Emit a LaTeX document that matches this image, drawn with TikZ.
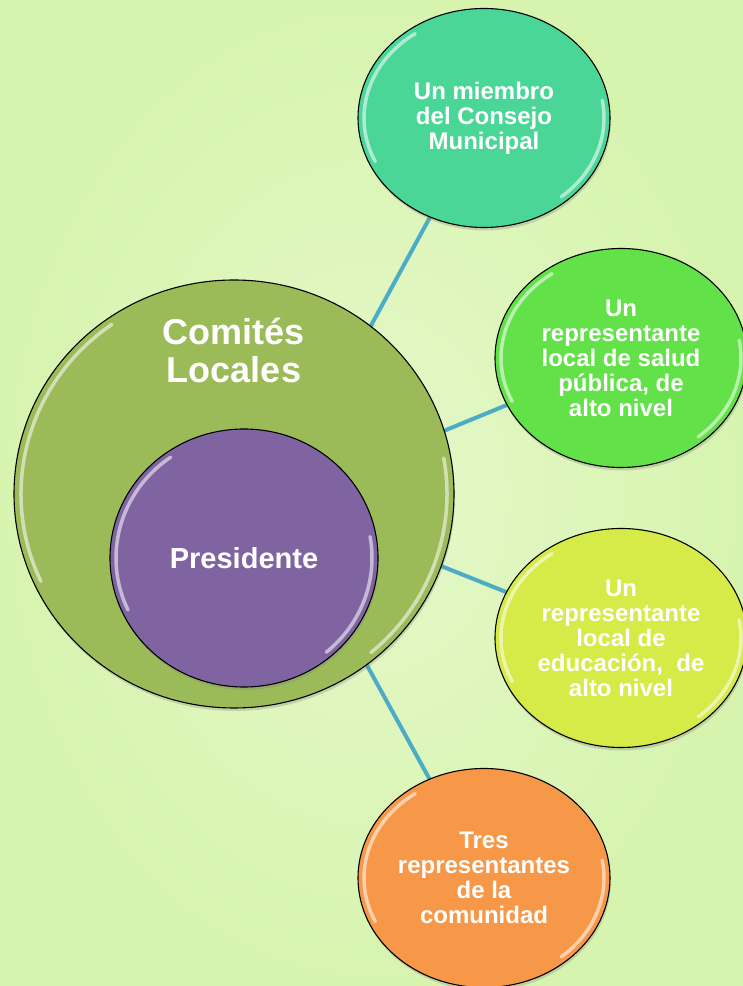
\documentclass[tikz,border=0pt]{standalone}
\usepackage{fontspec}
\setmainfont{Liberation Sans}
\usepackage{tikz}
\usetikzlibrary{positioning, shapes.geometric, backgrounds, shadows}

\definecolor{fondoin}{RGB}{229,248,202}
\definecolor{fondoout}{RGB}{215,244,175}
\definecolor{verdecomite}{RGB}{155,187,89}
\definecolor{morado}{RGB}{128,100,162}
\definecolor{turquesa}{RGB}{74,214,151}
\definecolor{verdevivo}{RGB}{98,225,72}
\definecolor{lima}{RGB}{214,234,72}
\definecolor{naranja}{RGB}{247,151,72}
\definecolor{azulrayo}{RGB}{75,172,198}

\tikzset{
  glare/.style={white, opacity=.55, line width=3.5pt, line cap=round},
  shine/.style 2 args={path picture={
      \draw[glare] (path picture bounding box.center) ++(205:#1 and #2)
        arc[start angle=205, end angle=125, x radius=#1, y radius=#2];
      \draw[glare] (path picture bounding box.center) ++(10:#1 and #2)
        arc[start angle=10, end angle=-50, x radius=#1, y radius=#2];}},
  bubble/.style={ellipse, draw=black, line width=1.1pt, inner sep=0pt,
      text=white, align=center,
      drop shadow={opacity=.3, shadow xshift=1pt, shadow yshift=-3pt}},
  miembro/.style={bubble, fill=#1, minimum width=252pt, minimum height=219pt,
      font=\bfseries\fontsize{24}{25}\selectfont, shine={120pt}{103pt}},
  rayo/.style={draw=azulrayo, line width=4pt}
}

\begin{document}
\begin{tikzpicture}[x=1pt, y=1pt]
        \useasboundingbox (0,0) rectangle (743,986);
        \begin{pgfonlayer}{background}
          \shade[inner color=fondoin, outer color=fondoout] (0,0) rectangle (743,986);
        \end{pgfonlayer}

        \coordinate (centro) at (276,486);

        \node (comite) [bubble, fill=verdecomite, minimum width=440pt, minimum height=428pt,
              shine={213pt}{207pt}] at (234,492) {};
        \node (titulo) [text=white, align=center, font=\bfseries\fontsize{36}{38}\selectfont]
              at ([yshift=-71pt]comite.north) {Comités\\Locales};
        \node (presidente) [bubble, fill=morado, minimum width=268pt, minimum height=258pt,
              font=\bfseries\fontsize{29}{30}\selectfont, shine={128pt}{123pt}]
              at (244,428) {Presidente};

        \node (concejo) [miembro=turquesa] at (484,868) {Un miembro\\del Consejo\\Municipal};
        \node (salud) [miembro=verdevivo] at (621,628)
              {Un\\representante\\local de salud\\pública, de\\alto nivel};
        \node (educacion) [miembro=lima] at (621,348)
              {Un\\representante\\local de\\educación,~~de\\alto nivel};
        \node (comunidad) [miembro=naranja] at (484,108)
              {Tres\\representantes\\de la\\comunidad};

%%      spokes go under the bubbles
        \begin{pgfonlayer}{background}
          \draw[rayo] (centro) -- (concejo.center);
          \draw[rayo] (centro) -- (salud.center);
          \draw[rayo] (centro) -- (educacion.center);
          \draw[rayo] (centro) -- (comunidad.center);
        \end{pgfonlayer}
      \end{tikzpicture}
\end{document}
